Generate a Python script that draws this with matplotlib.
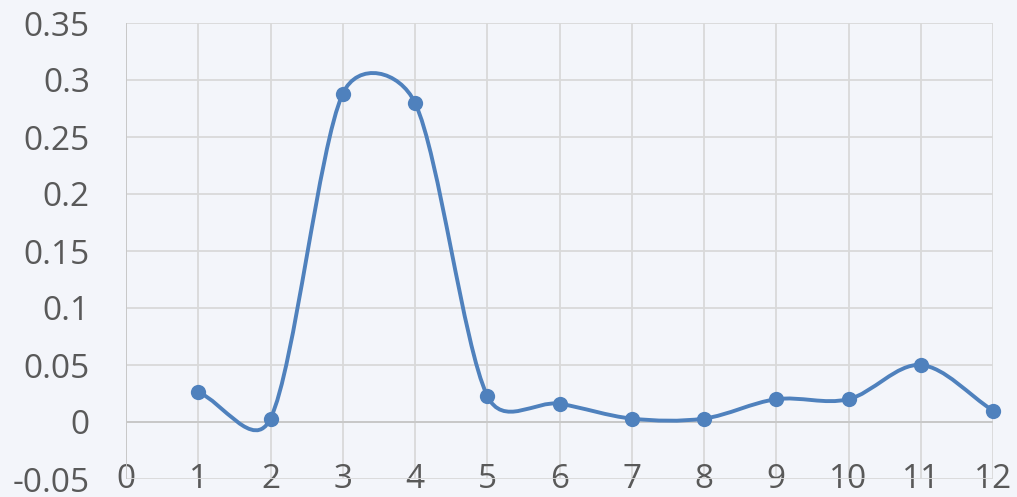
import numpy as np
import matplotlib
matplotlib.use('Agg')
import matplotlib.pyplot as plt
from matplotlib.path import Path
from matplotlib.patches import PathPatch

# ---- data ----
x_vals = [1, 2, 3, 4, 5, 6, 7, 8, 9, 10, 11, 12]
y_vals = [0.026, 0.003, 0.288, 0.280, 0.023, 0.016, 0.003, 0.003, 0.020, 0.020, 0.050, 0.010]
x_ticks = list(range(0, 13))
y_ticks = [-0.05, 0, 0.05, 0.1, 0.15, 0.2, 0.25, 0.3, 0.35]
y_tick_labels = ['-0.05', '0', '0.05', '0.1', '0.15', '0.2', '0.25', '0.3', '0.35']

bg = '#F3F5FA'
grid_c = '#D9D9D9'
text_c = '#595959'
line_c = '#4F81BD'

plt.rcParams['font.family'] = ['Open Sans', 'DejaVu Sans']

fig = plt.figure(figsize=(10.17, 4.97), dpi=100, facecolor=bg)
ax = fig.add_axes([126 / 1017, 18 / 497, 867 / 1017, 456 / 497])
ax.set_facecolor(bg)
ax.set_xlim(0, 12)
ax.set_ylim(-0.05, 0.35)
ax.set_xticks(x_ticks)
ax.set_xticklabels([str(t) for t in x_ticks])
ax.set_yticks(y_ticks)
ax.set_yticklabels(y_tick_labels)
for s in ax.spines.values():
    s.set_visible(False)
ax.grid(True, color=grid_c, lw=1.3)
ax.set_axisbelow(True)
ax.tick_params(axis='both', length=0, labelsize=24, labelcolor=text_c)
ax.tick_params(axis='y', pad=26)
ax.tick_params(axis='x', pad=0)
for lab in ax.get_xticklabels():
    lab.set_va('center')

# axis lines
ax.axhline(0, color='#C8C8C8', lw=1.4, zorder=1.5)
ax.axvline(0, color='#C8C8C8', lw=1.4, zorder=1.5)

# Excel-like smoothed line computed in display space
pts = ax.transData.transform(np.column_stack([x_vals, y_vals]))
n = len(pts)
verts = [pts[0]]
codes = [Path.MOVETO]
for i in range(n - 1):
    p1 = pts[i]
    p2 = pts[i + 1]
    p0 = pts[i - 1] if i > 0 else p1
    p3 = pts[i + 2] if i + 2 < n else p2
    d02 = np.linalg.norm(p2 - p0)
    d12 = np.linalg.norm(p2 - p1)
    d13 = np.linalg.norm(p3 - p1)
    f = 1 / 3 if i == 0 else 1 / 6
    g = 1 / 3 if i + 2 >= n else 1 / 6
    if d02 * f > d12 / 2:
        f = d12 / (2 * d02)
    if d13 * g > d12 / 2:
        g = d12 / (2 * d13)
    c1 = p1 + f * (p2 - p0)
    c2 = p2 - g * (p3 - p1)
    verts += [c1, c2, p2]
    codes += [Path.CURVE4] * 3
verts_data = ax.transData.inverted().transform(np.array(verts))
patch = PathPatch(Path(verts_data, codes), facecolor='none', edgecolor=line_c,
                  lw=2.8, capstyle='round', joinstyle='round', zorder=3)
ax.add_patch(patch)
ax.plot(x_vals, y_vals, 'o', color=line_c, markersize=11, zorder=4,
        markeredgewidth=0, clip_on=False)

fig.savefig('out.png', dpi=100, facecolor=bg)
